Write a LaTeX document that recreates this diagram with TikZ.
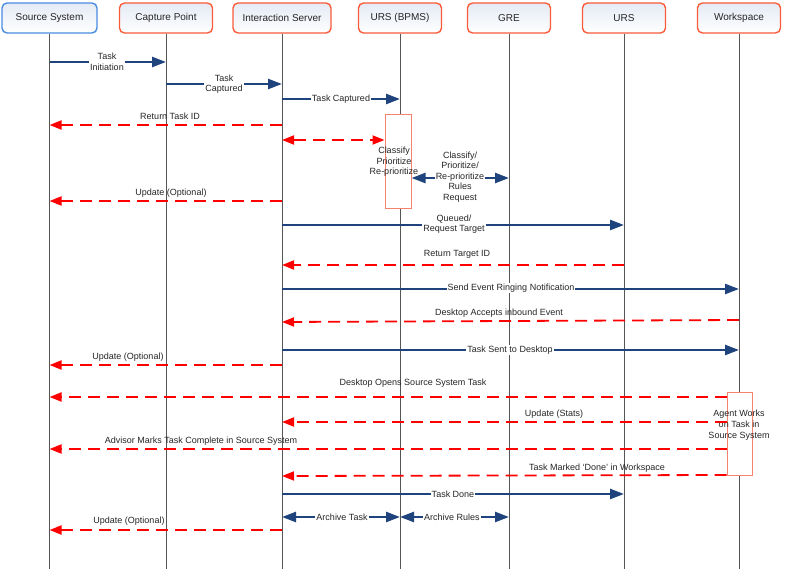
\documentclass[tikz,border=0pt]{standalone}
\usepackage{fontspec}
\setmainfont{Liberation Sans}
\usetikzlibrary{arrows.meta,shadings}
\definecolor{msgblue}{RGB}{31,68,125}
\definecolor{msgred}{RGB}{255,0,0}
\definecolor{boxorange}{RGB}{250,92,58}
\definecolor{boxblue}{RGB}{75,140,225}
\definecolor{actedge}{RGB}{245,130,110}
\definecolor{lifegray}{RGB}{85,85,85}
\definecolor{boxtop}{RGB}{228,234,245}
\begin{document}
\begin{tikzpicture}[x=1pt,y=-1pt,
  hdr/.style={draw=boxorange, line width=1.4pt, rounded corners=5pt, top color=boxtop, bottom color=white, minimum height=30pt, font=\fontsize{10}{12}\selectfont, inner sep=0pt, text=black!85},
  life/.style={draw=lifegray, line width=0.9pt},
  msg/.style={draw=msgblue, line width=2.4pt, -{Triangle[length=14pt,width=10pt]}},
  bmsg/.style={draw=msgblue, line width=2.4pt, {Triangle[length=14pt,width=10pt]}-{Triangle[length=14pt,width=10pt]}},
  ret/.style={draw=msgred, line width=1.8pt, dash pattern=on 12pt off 7pt, -{Triangle[length=12pt,width=9pt]}},
  bret/.style={draw=msgred, line width=1.8pt, dash pattern=on 12pt off 7pt, {Triangle[length=12pt,width=9pt]}-{Triangle[length=12pt,width=9pt]}},
  lbl/.style={font=\fontsize{9}{10.5}\selectfont, inner sep=1pt, align=center, text=black!85},
  onl/.style={lbl, fill=white},
  act/.style={draw=actedge, line width=1pt, fill=white, inner sep=0pt}
]
\fill[white] (0,0) rectangle (800,569);
\useasboundingbox (0,0) rectangle (800,569);

% header boxes
\node[hdr, draw=boxblue, minimum width=95pt] (src) at (49.5,18) {Source System};
\node[hdr, minimum width=93pt] (cap) at (166,18) {Capture Point};
\node[hdr, minimum width=98pt] (is) at (282,18) {Interaction Server};
\node[hdr, minimum width=83pt] (bpms) at (400,18) {URS (BPMS)};
\node[hdr, minimum width=83pt] (gre) at (509,18) {GRE};
\node[hdr, minimum width=83pt] (urs) at (624,18) {URS};
\node[hdr, minimum width=83pt] (ws) at (739,18) {Workspace};

% lifelines
\foreach \n in {src,cap,is,bpms,gre,urs,ws}
  \draw[life] (\n.south) -- (\n |- 0,569);

% activation boxes
\node[act, minimum width=26pt, minimum height=94pt] (a1) at (398,162) {};
\node[lbl] (a1t) at (394,162) {Classify\\Prioritize\\Re-prioritize};
\node[act, minimum width=25pt, minimum height=83pt] (a2) at (739.5,433.5) {};
\node[lbl, font=\fontsize{9}{11}\selectfont] (a2t) at (739,425) {Agent Works\\on Task in\\Source System};

% messages
\draw[msg] (src |- 0,62) -- (cap |- 0,62);
\node[onl] (m1) at (107,62) {Task\\Initiation};

\draw[msg] (cap |- 0,84) -- (is |- 0,84);
\node[onl] (m2) at (224,84) {Task\\Captured};

\draw[msg] (is |- 0,99) -- (bpms |- 0,99);
\node[onl] (m3) at (341,99) {Task Captured};

\draw[ret] (is |- 0,125) -- (src |- 0,125);
\node[lbl] (m4) at (170,116) {Return Task ID};

\draw[bret] (is |- 0,140) -- (a1.west |- 0,140);

\draw[bmsg] (a1.east |- 0,178) -- (gre |- 0,178);
\node[onl] (m6) at (460,177) {Classify/\\Prioritize/\\Re-prioritize\\Rules\\Request};

\draw[ret] (is |- 0,201) -- (src |- 0,201);
\node[lbl] (m7) at (171,193) {Update (Optional)};

\draw[msg] (is |- 0,225) -- (urs |- 0,225);
\node[onl] (m8) at (454,224) {Queued/\\Request Target};

\draw[ret] (urs |- 0,265) -- (is |- 0,265);
\node[lbl] (m9) at (457,254) {Return Target ID};

\draw[msg] (is |- 0,289) -- (ws |- 0,289);
\node[onl] (m10) at (511,288) {Send Event Ringing Notification};

\draw[ret] (ws |- 0,320) -- (is |- 0,322);
\node[lbl] (m11) at (499,313) {Desktop Accepts inbound Event};

\draw[msg] (is |- 0,350) -- (ws |- 0,350);
\node[onl] (m12) at (510,350) {Task Sent to Desktop};

\draw[ret] (is |- 0,365) -- (src |- 0,365);
\node[lbl] (m13) at (128,357) {Update (Optional)};

\draw[ret] (a2.west |- 0,397) -- (src |- 0,397);
\node[lbl] (m14) at (413,383) {Desktop Opens Source System Task};

\draw[ret] (a2.west |- 0,422) -- (is |- 0,422);
\node[lbl] (m15) at (554,414) {Update (Stats)};

\draw[ret] (a2.west |- 0,449) -- (src |- 0,449);
\node[lbl] (m16) at (201,441) {Advisor Marks Task Complete in Source System};

\draw[ret] (a2.west |- 0,475) -- (is |- 0,476);
\node[lbl] (m17) at (597,468) {Task Marked ‘Done’ in Workspace};

\draw[msg] (is |- 0,494) -- (urs |- 0,494);
\node[onl] (m18) at (453,494) {Task Done};

\draw[bmsg] (is |- 0,517) -- (bpms |- 0,517);
\node[onl] (m19) at (342,517) {Archive Task};
\draw[bmsg] (bpms |- 0,517) -- (gre |- 0,517);
\node[onl] (m20) at (452,517) {Archive Rules};

\draw[ret] (is |- 0,530) -- (src |- 0,530);
\node[lbl] (m21) at (129,521) {Update (Optional)};
\end{tikzpicture}
\end{document}
